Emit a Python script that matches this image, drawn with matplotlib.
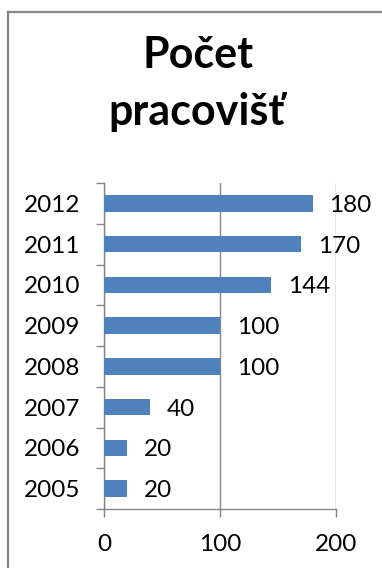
import matplotlib.pyplot as plt
from matplotlib.lines import Line2D

# data
roky = ['2005', '2006', '2007', '2008', '2009', '2010', '2011', '2012']
pocty = [20, 20, 40, 100, 100, 144, 170, 180]
x_ticks = [0, 100, 200]

plt.rcParams['font.family'] = ['Lato', 'DejaVu Sans']

W, H = 382, 568
fig = plt.figure(figsize=(W / 100, H / 100), dpi=100)
seda = '#868686'

# ramecek (jen horni a leva hrana je videt)
fig.add_artist(Line2D([8 / W, 8 / W], [-0.1, 1 - 12 / H], color=seda, lw=1.6))
fig.add_artist(Line2D([8 / W, 1.1], [1 - 12 / H, 1 - 12 / H], color=seda, lw=1.6))

fig.text(198 / W, 1 - 68 / H, 'Počet', ha='center', va='baseline',
         fontsize=31, fontweight='bold')
fig.text(197 / W, 1 - 125 / H, 'pracovišť', ha='center', va='baseline',
         fontsize=31, fontweight='bold')

ax = fig.add_axes([104 / W, 59 / H, 232 / W, 326 / H])
y = list(range(len(roky)))
ax.barh(y, pocty, height=0.4, color='#4F81BD', zorder=3)

for yi, v in zip(y, pocty):
    ax.annotate(str(v), (v, yi), xytext=(12, -1.5), textcoords='offset points',
                ha='left', va='center', fontsize=17.5, zorder=4)

ax.set_xlim(0, 200)
ax.set_ylim(-0.5, len(roky) - 0.5)
ax.set_xticks(x_ticks)
ax.set_xticklabels([str(t) for t in x_ticks])
ax.set_yticks([i - 0.5 for i in range(len(roky) + 1)])
ax.set_yticklabels([])
ax.set_yticks(y, minor=True)
ax.set_yticklabels(roky, minor=True)

ax.tick_params(axis='y', which='major', direction='out', length=5.5, width=1, color=seda)
ax.tick_params(axis='y', which='minor', length=0, pad=17, labelsize=17.5)
ax.tick_params(axis='x', direction='out', length=5.5, width=1, color=seda,
               pad=12.5, labelsize=17.5)

ax.grid(axis='x', color=seda, lw=1, zorder=0)
for s in ['top', 'right']:
    ax.spines[s].set_visible(False)
for s in ['left', 'bottom']:
    ax.spines[s].set_color(seda)
    ax.spines[s].set_linewidth(1)

fig.savefig('out.png', dpi=100)
